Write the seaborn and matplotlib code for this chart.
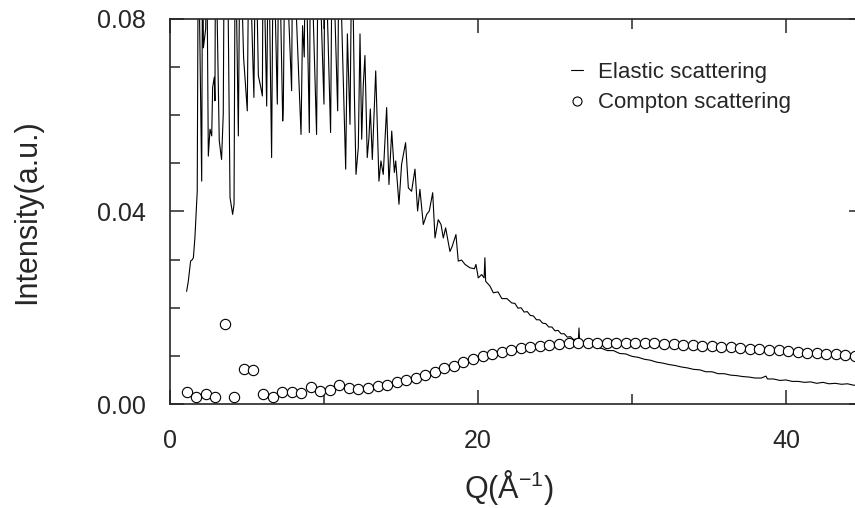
# Elastic vs Compton scattering intensity, Q in 1/Angstrom
import numpy as np
import pandas as pd
import matplotlib
matplotlib.use("Agg")
import matplotlib.pyplot as plt
import seaborn as sns
from matplotlib.lines import Line2D
from matplotlib.ticker import MultipleLocator, FormatStrFormatter

# elastic scattering curve (0.10 = off scale peak)
q_elastic = [1.08, 1.19, 1.34, 1.45, 1.52, 1.62, 1.77, 1.84, 2.06, 2.12, 2.17, 2.32, 2.38, 2.49,
             2.60, 2.71, 2.77, 2.88, 2.92, 2.96, 3.20, 3.35, 3.46, 3.53, 3.72, 3.90, 4.07, 4.16,
             4.24, 4.44, 4.55, 4.78, 5.02, 5.13, 5.45, 5.56, 5.74, 5.88, 6.00, 6.05, 6.28, 6.39,
             6.60, 6.71, 6.97, 7.08, 7.32, 7.36, 7.47, 7.90, 7.97, 8.51, 8.61, 8.72, 8.80, 9.05,
             9.13, 9.52, 9.63, 10.00, 10.06, 10.43, 10.54, 10.89, 10.98, 11.41, 11.52, 11.69,
             11.82, 11.97, 12.08, 12.23, 12.34, 12.45, 12.55, 12.66, 12.81, 12.92, 13.01, 13.14,
             13.36, 13.57, 13.70, 13.85, 14.07, 14.22, 14.40, 14.57, 14.66, 14.87, 15.04, 15.30,
             15.48, 15.69, 15.91, 16.08, 16.23, 16.45, 16.67, 16.84, 17.06, 17.21, 17.42, 17.60,
             17.75, 17.90, 18.18, 18.32, 18.57, 18.72, 18.94, 19.16, 19.48, 19.77, 19.87, 20.02,
             20.24, 20.40, 20.45, 20.50, 20.78, 21.00, 21.30, 21.55, 21.88, 22.19, 22.40, 22.60,
             22.80, 23.00, 23.20, 23.40, 23.60, 23.80, 24.00, 24.20, 24.40, 24.60, 24.80, 25.00,
             25.20, 25.40, 25.60, 25.80, 26.00, 26.20, 26.40, 26.52, 26.56, 26.60, 26.80, 27.00,
             27.20, 27.40, 27.60, 27.80, 28.00, 28.40, 28.80, 29.20, 29.60, 30.00, 30.40, 30.80,
             31.20, 31.60, 32.00, 32.40, 32.80, 33.20, 33.60, 34.00, 34.40, 34.80, 35.20, 35.60,
             36.00, 36.40, 36.80, 37.20, 37.60, 38.00, 38.40, 38.70, 38.80, 39.20, 39.60, 40.00,
             40.40, 40.80, 41.20, 41.60, 42.00, 42.40, 42.80, 43.20, 43.60, 44.00, 44.40, 44.80,
             45.20]
i_elastic = [0.0234, 0.0255, 0.0297, 0.0300, 0.0304, 0.0346, 0.0442, 0.10, 0.0463, 0.10, 0.0740,
             0.0780, 0.10, 0.0515, 0.0571, 0.0557, 0.0658, 0.0679, 0.0630, 0.10, 0.0547, 0.0508,
             0.0602, 0.10, 0.10, 0.0429, 0.0394, 0.0415, 0.10, 0.0557, 0.10, 0.0720, 0.0609, 0.10,
             0.0637, 0.10, 0.0682, 0.0661, 0.0640, 0.10, 0.0619, 0.10, 0.0512, 0.10, 0.0623, 0.10,
             0.0588, 0.0614, 0.10, 0.0651, 0.10, 0.0560, 0.0786, 0.0721, 0.10, 0.0564, 0.10, 0.0560,
             0.10, 0.0623, 0.10, 0.0564, 0.10, 0.0609, 0.10, 0.0488, 0.0769, 0.0581, 0.10, 0.0651,
             0.0477, 0.0533, 0.0769, 0.0550, 0.0661, 0.0724, 0.0512, 0.0553, 0.0613, 0.0508,
             0.0692, 0.0463, 0.0505, 0.0477, 0.0616, 0.0456, 0.0567, 0.0481, 0.0505, 0.0415,
             0.0498, 0.0543, 0.0449, 0.0442, 0.0488, 0.0401, 0.0446, 0.0373, 0.0394, 0.0401,
             0.0439, 0.0345, 0.0383, 0.0373, 0.0345, 0.0366, 0.0317, 0.0327, 0.0352, 0.0297,
             0.0299, 0.0290, 0.0283, 0.0281, 0.0290, 0.0262, 0.0269, 0.0262, 0.0304, 0.0255,
             0.0245, 0.0231, 0.0233, 0.0219, 0.0219, 0.0210, 0.0209, 0.0199, 0.0200, 0.0191,
             0.0192, 0.0184, 0.0183, 0.0175, 0.0175, 0.0168, 0.0167, 0.0160, 0.0160, 0.0152,
             0.0153, 0.0146, 0.0146, 0.0139, 0.0140, 0.0134, 0.0135, 0.0131, 0.0158, 0.0131,
             0.0130, 0.0125, 0.0126, 0.0120, 0.0121, 0.0116, 0.0116, 0.0111, 0.0111, 0.0105,
             0.0104, 0.0099, 0.0097, 0.0093, 0.0091, 0.0087, 0.0085, 0.0082, 0.0080, 0.0077,
             0.0075, 0.0072, 0.0071, 0.0067, 0.0067, 0.0063, 0.0063, 0.0060, 0.0059, 0.0057,
             0.0056, 0.0054, 0.0054, 0.0058, 0.0052, 0.0052, 0.0049, 0.0050, 0.0047, 0.0047,
             0.0045, 0.0046, 0.0043, 0.0045, 0.0042, 0.0043, 0.0041, 0.0042, 0.0039, 0.0040,
             0.0038]

# compton scattering points
q_compton = [1.08, 1.70, 2.32, 2.94, 3.56, 4.18, 4.80, 5.42, 6.04, 6.66, 7.28, 7.90, 8.52, 9.14,
             9.76, 10.38, 11.00, 11.62, 12.24, 12.86, 13.48, 14.10, 14.72, 15.34, 15.96, 16.58,
             17.20, 17.82, 18.44, 19.06, 19.68, 20.30, 20.92, 21.54, 22.16, 22.78, 23.40, 24.02,
             24.64, 25.26, 25.88, 26.50, 27.12, 27.74, 28.36, 28.98, 29.60, 30.22, 30.84, 31.46,
             32.08, 32.70, 33.32, 33.94, 34.56, 35.18, 35.80, 36.42, 37.04, 37.66, 38.28, 38.90,
             39.52, 40.14, 40.76, 41.38, 42.00, 42.62, 43.24, 43.86, 44.48]
i_compton = [0.0024, 0.0014, 0.0020, 0.0015, 0.0167, 0.0015, 0.0072, 0.0071, 0.0021, 0.0015,
             0.0024, 0.0024, 0.0022, 0.0035, 0.0028, 0.0029, 0.0040, 0.0033, 0.0031, 0.0033,
             0.0037, 0.0040, 0.0045, 0.0049, 0.0055, 0.0061, 0.0067, 0.0074, 0.0080, 0.0087,
             0.0093, 0.0099, 0.0104, 0.0109, 0.0112, 0.0117, 0.0119, 0.0121, 0.0123, 0.0125,
             0.0126, 0.0126, 0.0127, 0.0127, 0.0127, 0.0127, 0.0127, 0.0127, 0.0127, 0.0126,
             0.0125, 0.0124, 0.0123, 0.0122, 0.0121, 0.0120, 0.0119, 0.0118, 0.0117, 0.0115,
             0.0114, 0.0113, 0.0112, 0.0110, 0.0109, 0.0107, 0.0106, 0.0104, 0.0103, 0.0101,
             0.0099]

x_ticks = [0, 20, 40]
y_ticks = [0.00, 0.04, 0.08]

sns.set_style("ticks")
plt.rcParams['font.family'] = ['Liberation Sans', 'DejaVu Sans']
plt.rcParams['mathtext.fontset'] = 'custom'
plt.rcParams['mathtext.rm'] = 'Liberation Sans'
plt.rcParams['mathtext.it'] = 'Liberation Sans:italic'

df_el = pd.DataFrame({'Q': q_elastic, 'I': i_elastic})
df_co = pd.DataFrame({'Q': q_compton, 'I': i_compton})

fig = plt.figure(figsize=(8.55, 5.08), dpi=100)
ax = fig.add_axes([0.1988, 0.2047, 0.8105, 0.758])

sns.lineplot(data=df_el, x='Q', y='I', sort=False, estimator=None, color='black',
             linewidth=0.8, ax=ax)
sns.scatterplot(data=df_co, x='Q', y='I', marker='o', s=55, facecolor='white',
                edgecolor='black', linewidth=0.8, ax=ax, zorder=3)

ax.set_xlim(0, 45)
ax.set_ylim(0, 0.08)
ax.set_xticks(x_ticks)
ax.set_yticks(y_ticks)
ax.xaxis.set_minor_locator(MultipleLocator(10))
ax.yaxis.set_minor_locator(MultipleLocator(0.01))
ax.yaxis.set_major_formatter(FormatStrFormatter('%.2f'))
ax.tick_params(which='both', direction='in', top=True, right=True, width=1.1)
ax.tick_params(which='major', length=10, labelsize=18)
ax.tick_params(axis='x', which='major', pad=18)
ax.tick_params(axis='y', which='major', pad=17)
ax.tick_params(which='minor', length=7)
ax.tick_params(axis='y', which='minor', right=False)
for sp in ax.spines.values():
    sp.set_linewidth(1.2)

ax.set_xlabel('Q(Å$^{-1}$)', fontsize=22)
ax.set_ylabel('Intensity(a.u.)', fontsize=22)
ax.xaxis.set_label_coords(0.489, -0.165)
ax.yaxis.set_label_coords(-0.185, 0.5)

handles = [Line2D([], [], color='black', linewidth=0.8),
           Line2D([], [], color='black', marker='o', linestyle='none', markersize=6.5,
                  markerfacecolor='white', markeredgewidth=0.8)]
ax.legend(handles, ['Elastic scattering', 'Compton scattering'], loc='upper left',
          bbox_to_anchor=(0.578, 0.889), frameon=False, fontsize=16, handlelength=0.55,
          handletextpad=0.7, labelspacing=0.44, borderpad=0, borderaxespad=0)

fig.savefig('out.png', dpi=100)
